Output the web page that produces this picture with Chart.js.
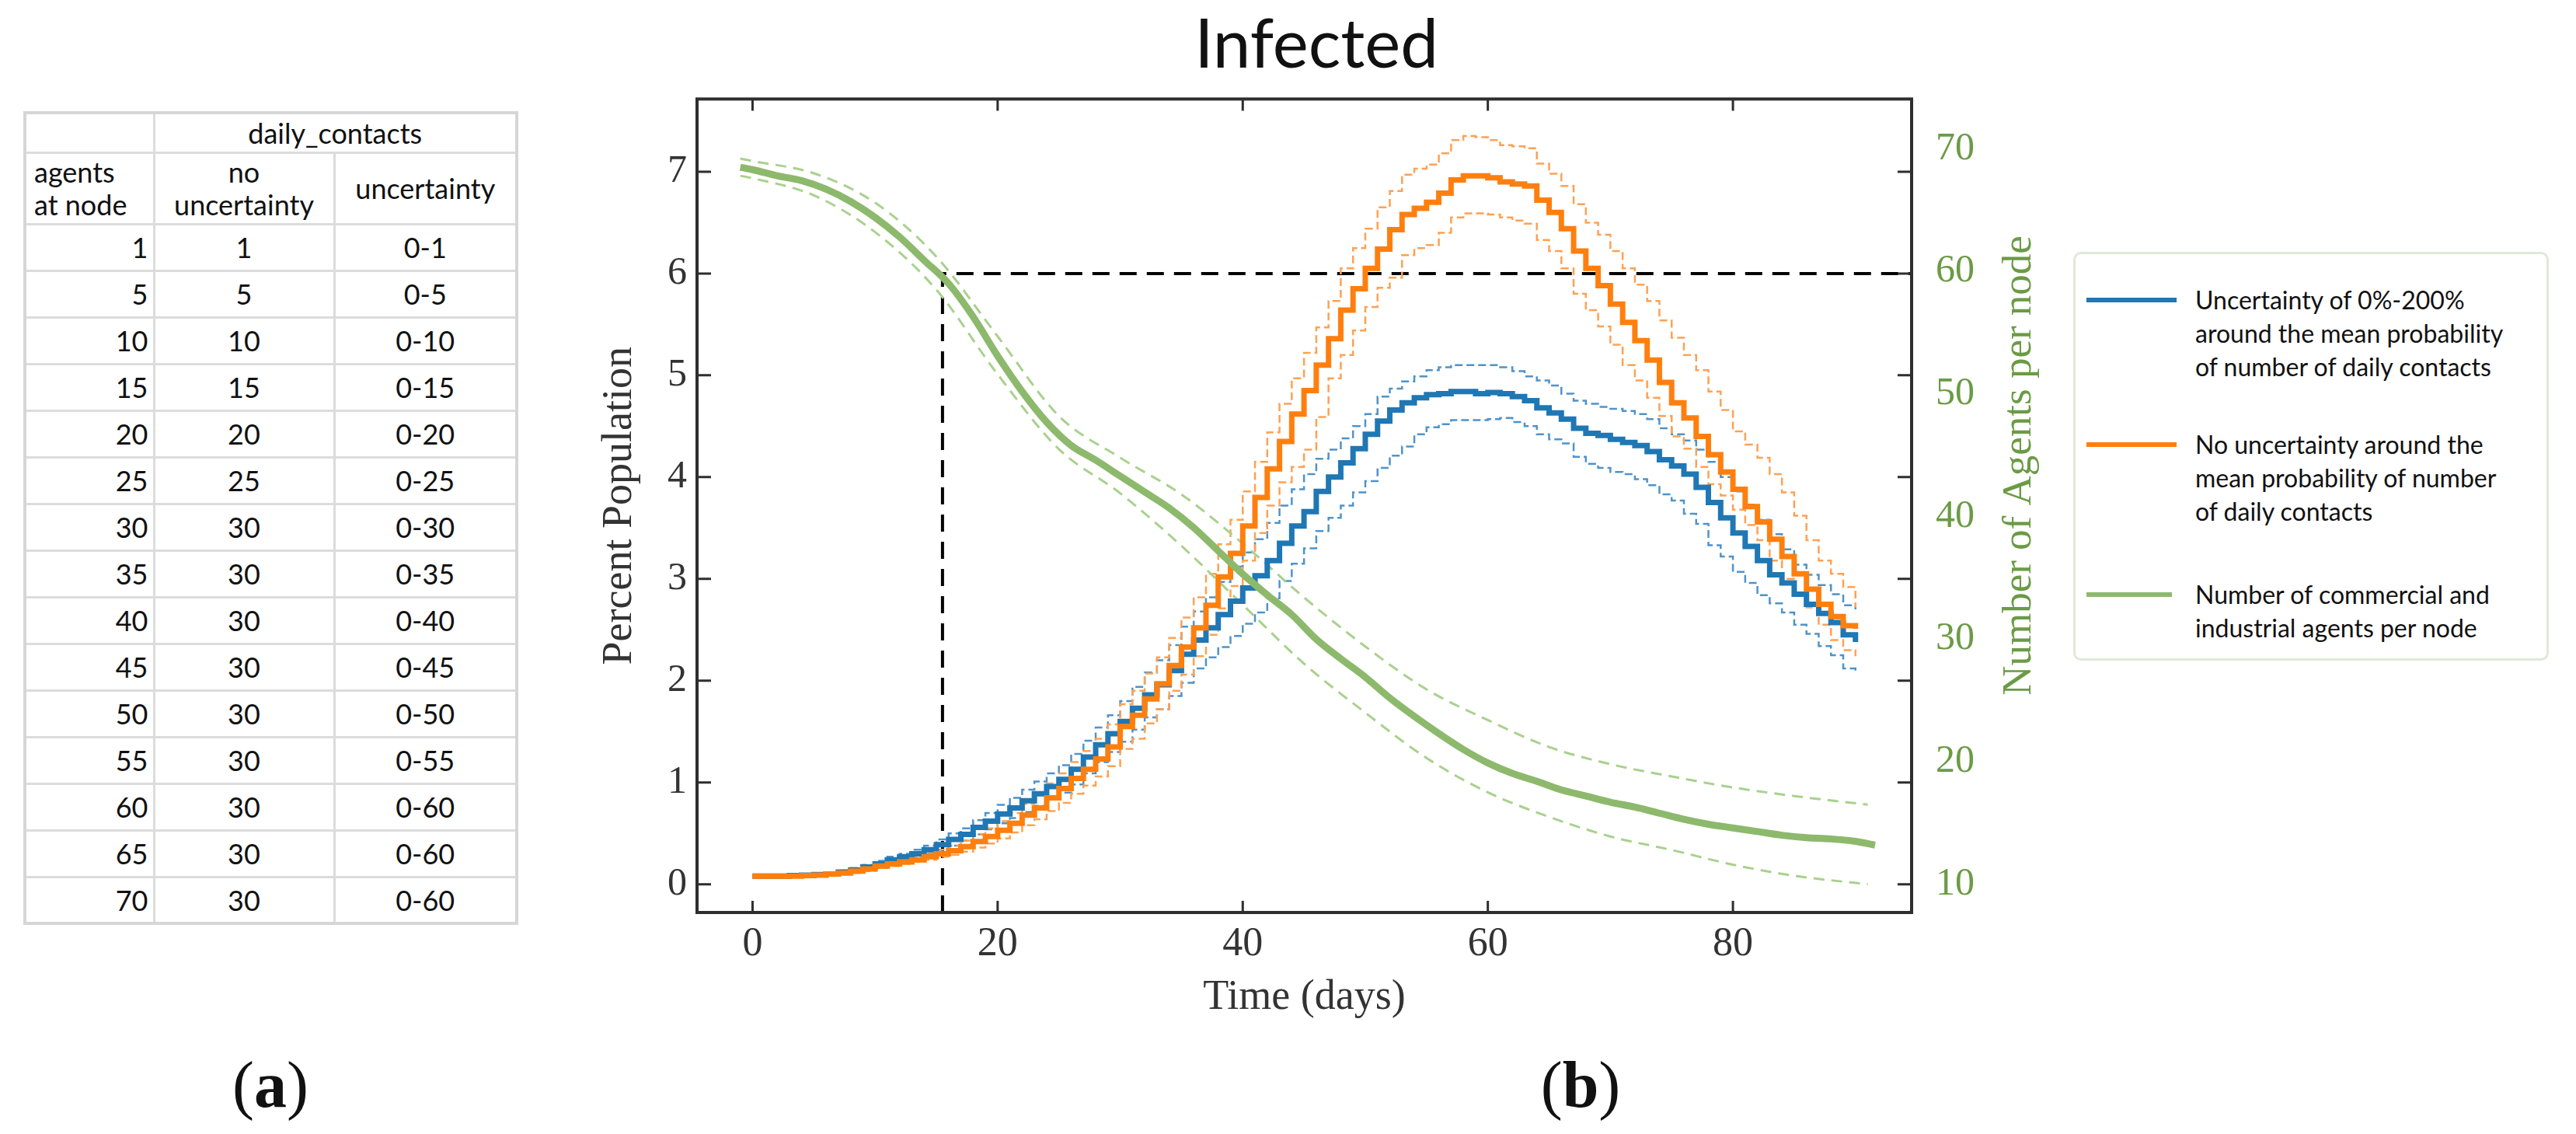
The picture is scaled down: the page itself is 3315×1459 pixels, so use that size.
<!DOCTYPE html>
<html>
<head>
<meta charset="utf-8">
<script src="https://cdn.jsdelivr.net/npm/chart.js@4.4.1/dist/chart.umd.min.js"></script>
<style>
  html, body { margin: 0; padding: 0; background: #fff; }
  body { width: 3315px; height: 1459px; position: relative; overflow: hidden; font-family: Lato, sans-serif; }
  #tbl { position: absolute; left: 30px; top: 143px; border-collapse: collapse; table-layout: fixed; width: 633px;
         font: 36px Lato, sans-serif; color: #111; border: 4px solid #d6d6d6; }
  #tbl td, #tbl th { border: 3px solid #dcdcdc; padding: 0 6px; font-weight: normal; line-height: 42px; text-align: center; }
  #tbl td.n, #tbl th.n { text-align: right; padding-right: 6px; }
  #tbl th.l { text-align: left; padding-left: 10px; }
  #tbl tbody tr { height: 60px; }
  #chartBox { position: absolute; left: 700px; top: 0; width: 1988px; height: 1459px; }
  #legend { position: absolute; left: 2668px; top: 324px; width: 612px; height: 526px; box-sizing: border-box;
            border: 3px solid #e0e9d9; border-radius: 10px; background: #fff; }
  .item { position: absolute; left: 0; }
  .swatch { position: absolute; left: 14px; width: 116px; height: 6px; top: 19px; }
  .txt { position: absolute; left: 154px; width: 450px; font: 32px Lato, sans-serif; line-height: 43px; color: #111; white-space: nowrap; }
  .panel { position: absolute; width: 200px; text-align: center; font: 84px "Liberation Serif", serif; line-height: 84px; color: #111; }
</style>
</head>
<body>
<table id="tbl">
  <colgroup><col style="width:166px"><col style="width:232px"><col style="width:235px"></colgroup>
  <thead>
    <tr style="height:51px"><th></th><th colspan="2">daily_contacts</th></tr>
    <tr style="height:92px"><th class="l">agents<br>at node</th><th>no<br>uncertainty</th><th>uncertainty</th></tr>
  </thead>
  <tbody id="tb"></tbody>
</table>
<div id="chartBox"><canvas id="myChart" width="1988" height="1459"></canvas></div>
<div id="legend"></div>
<div class="panel" style="left:248px; top:1354px;">(<b>a</b>)</div>
<div class="panel" style="left:1934px; top:1354px;">(<b>b</b>)</div>
<script>
// table (a)
const agentsAtNode = [1, 5, 10, 15, 20, 25, 30, 35, 40, 45, 50, 55, 60, 65, 70];
const noUncertainty = [1, 5, 10, 15, 20, 25, 30, 30, 30, 30, 30, 30, 30, 30, 30];
const uncertaintyRange = ['0-1', '0-5', '0-10', '0-15', '0-20', '0-25', '0-30', '0-35', '0-40', '0-45', '0-50', '0-55', '0-60', '0-60', '0-60'];

// chart (b)
const days = [0, 1, 2, 3, 4, 5, 6, 7, 8, 9, 10, 11, 12, 13, 14, 15, 16, 17, 18, 19,
  20, 21, 22, 23, 24, 25, 26, 27, 28, 29, 30, 31, 32, 33, 34, 35, 36, 37, 38, 39,
  40, 41, 42, 43, 44, 45, 46, 47, 48, 49, 50, 51, 52, 53, 54, 55, 56, 57, 58, 59,
  60, 61, 62, 63, 64, 65, 66, 67, 68, 69, 70, 71, 72, 73, 74, 75, 76, 77, 78, 79,
  80, 81, 82, 83, 84, 85, 86, 87, 88, 89, 90];

const blueMean = [0.08, 0.08, 0.08, 0.085, 0.09, 0.095, 0.10, 0.12, 0.14, 0.17,
  0.20, 0.24, 0.27, 0.30, 0.34, 0.39, 0.44, 0.49, 0.56, 0.62,
  0.69, 0.75, 0.82, 0.89, 0.96, 1.03, 1.13, 1.25, 1.37, 1.48,
  1.60, 1.73, 1.86, 1.96, 2.10, 2.26, 2.40, 2.52, 2.65, 2.78,
  2.91, 3.03, 3.18, 3.35, 3.52, 3.66, 3.86, 4.00, 4.14, 4.28,
  4.42, 4.55, 4.66, 4.73, 4.78, 4.81, 4.82, 4.84, 4.84, 4.82,
  4.83, 4.82, 4.79, 4.75, 4.68, 4.63, 4.57, 4.48, 4.43, 4.41,
  4.37, 4.34, 4.31, 4.25, 4.17, 4.11, 4.03, 3.90, 3.75, 3.60,
  3.45, 3.32, 3.18, 3.04, 2.96, 2.85, 2.75, 2.66, 2.57, 2.45,
  2.38];
const blueUpper = [0.09, 0.09, 0.09, 0.095, 0.10, 0.105, 0.115, 0.135, 0.16, 0.19,
  0.23, 0.27, 0.30, 0.34, 0.38, 0.44, 0.50, 0.55, 0.63, 0.70,
  0.78, 0.85, 0.93, 1.01, 1.09, 1.17, 1.28, 1.41, 1.54, 1.66,
  1.80, 1.94, 2.08, 2.20, 2.35, 2.53, 2.68, 2.82, 2.97, 3.12,
  3.26, 3.39, 3.55, 3.72, 3.88, 4.03, 4.18, 4.27, 4.38, 4.50,
  4.62, 4.79, 4.87, 4.94, 4.99, 5.05, 5.08, 5.10, 5.10, 5.10,
  5.10, 5.08, 5.04, 4.99, 4.95, 4.90, 4.82, 4.75, 4.72, 4.69,
  4.67, 4.65, 4.62, 4.57, 4.48, 4.42, 4.36, 4.27, 4.15, 4.00,
  3.86, 3.73, 3.58, 3.44, 3.29, 3.14, 3.04, 2.94, 2.85, 2.74,
  2.70];
const blueLower = [0.07, 0.07, 0.07, 0.075, 0.08, 0.085, 0.09, 0.10, 0.12, 0.15,
  0.17, 0.21, 0.24, 0.26, 0.30, 0.34, 0.38, 0.43, 0.49, 0.54,
  0.60, 0.65, 0.71, 0.77, 0.84, 0.90, 0.98, 1.09, 1.20, 1.30,
  1.40, 1.52, 1.64, 1.72, 1.85, 1.98, 2.12, 2.23, 2.33, 2.44,
  2.56, 2.67, 2.81, 2.98, 3.15, 3.30, 3.47, 3.60, 3.72, 3.85,
  3.96, 4.09, 4.21, 4.30, 4.42, 4.49, 4.52, 4.56, 4.56, 4.56,
  4.57, 4.58, 4.54, 4.50, 4.42, 4.37, 4.33, 4.20, 4.13, 4.09,
  4.05, 4.03, 3.98, 3.92, 3.83, 3.77, 3.64, 3.54, 3.33, 3.22,
  3.07, 2.96, 2.84, 2.76, 2.67, 2.55, 2.46, 2.34, 2.25, 2.12,
  2.09];

const orangeMean = [0.08, 0.08, 0.08, 0.08, 0.085, 0.09, 0.10, 0.11, 0.13, 0.15,
  0.18, 0.20, 0.22, 0.24, 0.27, 0.30, 0.33, 0.37, 0.42, 0.47,
  0.53, 0.60, 0.68, 0.75, 0.85, 0.94, 1.04, 1.13, 1.23, 1.35,
  1.55, 1.66, 1.82, 1.97, 2.15, 2.33, 2.52, 2.74, 3.02, 3.25,
  3.52, 3.80, 4.08, 4.35, 4.62, 4.85, 5.10, 5.36, 5.64, 5.85,
  6.05, 6.24, 6.43, 6.58, 6.64, 6.70, 6.79, 6.92, 6.96, 6.96,
  6.94, 6.90, 6.88, 6.86, 6.72, 6.60, 6.44, 6.22, 6.05, 5.88,
  5.70, 5.52, 5.34, 5.15, 4.93, 4.73, 4.58, 4.40, 4.22, 4.05,
  3.88, 3.71, 3.56, 3.39, 3.22, 3.05, 2.90, 2.75, 2.63, 2.54,
  2.51];
const orangeUpper = [0.09, 0.09, 0.09, 0.09, 0.095, 0.10, 0.11, 0.13, 0.15, 0.17,
  0.20, 0.22, 0.25, 0.27, 0.31, 0.34, 0.38, 0.43, 0.49, 0.55,
  0.62, 0.70, 0.79, 0.88, 0.99, 1.09, 1.20, 1.31, 1.43, 1.57,
  1.77, 1.90, 2.07, 2.23, 2.42, 2.62, 2.82, 3.05, 3.34, 3.58,
  3.86, 4.15, 4.44, 4.72, 4.97, 5.22, 5.47, 5.73, 6.05, 6.25,
  6.44, 6.65, 6.81, 6.97, 7.03, 7.07, 7.18, 7.31, 7.35, 7.34,
  7.31, 7.26, 7.25, 7.23, 7.08, 6.98, 6.86, 6.68, 6.50, 6.38,
  6.22, 6.05, 5.89, 5.73, 5.54, 5.37, 5.20, 5.05, 4.84, 4.66,
  4.45, 4.32, 4.19, 4.03, 3.85, 3.62, 3.38, 3.18, 3.05, 2.92,
  2.72];
const orangeLower = [0.07, 0.07, 0.07, 0.07, 0.075, 0.08, 0.09, 0.10, 0.11, 0.13,
  0.16, 0.18, 0.20, 0.22, 0.24, 0.27, 0.29, 0.32, 0.36, 0.40,
  0.45, 0.51, 0.58, 0.64, 0.72, 0.80, 0.89, 0.97, 1.06, 1.16,
  1.33, 1.43, 1.58, 1.72, 1.90, 2.06, 2.24, 2.45, 2.71, 2.93,
  3.18, 3.45, 3.72, 3.95, 4.10, 4.27, 4.59, 4.97, 5.20, 5.44,
  5.67, 5.86, 5.96, 6.18, 6.25, 6.28, 6.40, 6.55, 6.59, 6.59,
  6.58, 6.55, 6.52, 6.49, 6.33, 6.22, 6.05, 5.80, 5.64, 5.48,
  5.30, 5.10, 4.95, 4.78, 4.60, 4.40, 4.28, 4.10, 3.93, 3.82,
  3.68, 3.53, 3.38, 3.18, 3.00, 2.85, 2.72, 2.55, 2.40, 2.30,
  2.24];

// agents per node (right axis)
const greenDays = [-1, 0, 2, 4, 6, 8, 10, 12, 14, 16, 18, 20, 22, 24, 26, 28, 30, 32, 34, 36, 38, 40,
  42, 44, 46, 48, 50, 52, 54, 56, 58, 60, 62, 64, 66, 68, 70, 72, 74, 76, 78, 80, 82, 84, 86, 88, 90, 91.6];
const greenMean = [68.5, 68.3, 67.8, 67.4, 66.7, 65.7, 64.4, 62.8, 60.9, 59.0, 56.3, 53.1, 50.2, 47.7, 45.8,
  44.6, 43.3, 42.0, 40.7, 39.1, 37.2, 35.3, 33.6, 32.0, 30.0, 28.4, 26.9, 25.2, 23.7, 22.3, 21.0, 19.9,
  19.05, 18.4, 17.7, 17.2, 16.7, 16.3, 15.8, 15.3, 14.9, 14.6, 14.3, 14.0, 13.8, 13.7, 13.5, 13.2];
const greenBandDays = [-1, 0, 5, 10, 15, 20, 25, 30, 35, 40, 45, 50, 55, 60, 65, 70, 75, 80, 85, 91];
const greenUpper = [69.2, 69.0, 68.0, 65.6, 61.2, 54.7, 48.2, 44.8, 41.8, 37.8, 33.4, 29.4, 25.9, 23.4, 21.2, 19.8, 18.8, 17.9, 17.2, 16.5];
const greenLower = [67.8, 67.6, 66.2, 63.2, 58.5, 51.6, 45.5, 41.9, 37.6, 32.8, 28.0, 24.0, 20.3, 17.5, 15.5, 13.9, 12.8, 11.6, 10.7, 10.0];

// reference lines (day when agents per node drops to 60)
const markerDay = 15.5;
const markerLevel = 6;

// axis ranges and ticks
const xMin = -4.53, xMax = 94.58, xStep = 20;
const yMin = -0.277, yMax = 7.714, yStep = 1;
const y2Min = 7.70, y2Max = 74.06, y2Step = 10;

const legendItems = [
  { color: '#1f77b4', width: 116, lines: ['Uncertainty of 0%-200%', 'around the mean probability', 'of number of daily contacts'] },
  { color: '#ff7f0e', width: 116, lines: ['No uncertainty around the', 'mean probability of number', 'of daily contacts'] },
  { color: '#8db96c', width: 110, lines: ['Number of commercial and', 'industrial agents per node'] }
];
const legendTops = [37, 223, 416];

const GREEN_TEXT = '#6b9b45';
const SERIF = '"Liberation Serif", "Times New Roman", serif';

// build table
const tb = document.getElementById('tb');
agentsAtNode.forEach(function (a, i) {
  const tr = document.createElement('tr');
  tr.innerHTML = '<td class="n">' + a + '</td><td>' + noUncertainty[i] + '</td><td>' + uncertaintyRange[i] + '</td>';
  tb.appendChild(tr);
});

// build legend
const lg = document.getElementById('legend');
legendItems.forEach(function (it, i) {
  const d = document.createElement('div');
  d.className = 'item';
  d.style.top = legendTops[i] + 'px';
  d.innerHTML = '<span class="swatch" style="background:' + it.color + ';width:' + it.width + 'px"></span>' +
    '<div class="txt">' + it.lines.join('<br>') + '</div>';
  lg.appendChild(d);
});

function makeSet(label, xs, ys, color, width, dash, axis, stepped) {
  return {
    label: label,
    data: xs.map(function (x, i) { return { x: x, y: ys[i] }; }),
    borderColor: color,
    borderWidth: width,
    borderDash: dash,
    yAxisID: axis,
    stepped: stepped ? 'before' : false,
    cubicInterpolationMode: stepped ? 'default' : 'monotone',
    tension: stepped ? 0 : 0.4,
    pointRadius: 0,
    fill: false,
    borderCapStyle: 'butt'
  };
}

const frame = {
  id: 'frame',
  beforeDatasetsDraw(chart) {
    const { ctx, chartArea: a, scales } = chart;
    const x = scales.x.getPixelForValue(markerDay);
    const y = scales.y.getPixelForValue(markerLevel);
    ctx.save();
    ctx.strokeStyle = '#000';
    ctx.lineWidth = 4;
    ctx.setLineDash([22, 13]);
    ctx.beginPath();
    ctx.moveTo(x, a.bottom);
    ctx.lineTo(x, y);
    ctx.lineTo(a.right, y);
    ctx.stroke();
    ctx.restore();
  },
  afterDraw(chart) {
    const { ctx, chartArea: a, scales } = chart;
    ctx.save();
    ctx.strokeStyle = '#2e2e2e';
    ctx.lineWidth = 3;
    scales.x.ticks.forEach(function (t) {
      const px = scales.x.getPixelForValue(t.value);
      ctx.beginPath();
      ctx.moveTo(px, a.bottom); ctx.lineTo(px, a.bottom - 15);
      ctx.moveTo(px, a.top); ctx.lineTo(px, a.top + 15);
      ctx.stroke();
    });
    scales.y.ticks.forEach(function (t) {
      const py = scales.y.getPixelForValue(t.value);
      ctx.beginPath();
      ctx.moveTo(a.left, py); ctx.lineTo(a.left + 18, py);
      ctx.moveTo(a.right, py); ctx.lineTo(a.right - 18, py);
      ctx.stroke();
    });
    ctx.lineWidth = 4;
    ctx.strokeRect(a.left, a.top, a.right - a.left, a.bottom - a.top);
    // right axis title, reading bottom to top
    ctx.translate(1899, 599);
    ctx.rotate(-Math.PI / 2);
    ctx.fillStyle = GREEN_TEXT;
    ctx.font = '53px ' + SERIF;
    ctx.textAlign = 'center';
    ctx.textBaseline = 'middle';
    ctx.fillText('Number of Agents per node', 0, 0);
    ctx.restore();
  }
};

const config = {
  type: 'line',
  data: {
    datasets: [
      makeSet('Number of commercial and industrial agents per node', greenDays, greenMean, '#8db96c', 9, [], 'y2', false),
      makeSet('No uncertainty around the mean probability of number of daily contacts', days, orangeMean, '#ff7f0e', 7, [], 'y', true),
      makeSet('Uncertainty of 0%-200% around the mean probability of number of daily contacts', days, blueMean, '#1f77b4', 7, [], 'y', true),
      makeSet('agents upper', greenBandDays, greenUpper, '#a9d18e', 3, [14, 9], 'y2', false),
      makeSet('agents lower', greenBandDays, greenLower, '#a9d18e', 3, [14, 9], 'y2', false),
      makeSet('no uncertainty upper', days, orangeUpper, '#ffa153', 2.5, [10, 5], 'y', true),
      makeSet('no uncertainty lower', days, orangeLower, '#ffa153', 2.5, [10, 5], 'y', true),
      makeSet('uncertainty upper', days, blueUpper, '#4f93c9', 2.5, [10, 5], 'y', true),
      makeSet('uncertainty lower', days, blueLower, '#4f93c9', 2.5, [10, 5], 'y', true)
    ]
  },
  options: {
    responsive: false,
    animation: false,
    devicePixelRatio: 1,
    layout: { padding: 0 },
    plugins: {
      legend: { display: false },
      tooltip: { enabled: false },
      title: {
        display: true,
        text: 'Infected',
        color: '#111',
        font: { family: 'Lato', size: 87, weight: 'normal', lineHeight: 1.2 },
        padding: { top: 7, bottom: 16 }
      }
    },
    scales: {
      x: {
        type: 'linear',
        min: xMin, max: xMax,
        grid: { display: false, drawTicks: false },
        border: { display: false },
        ticks: { stepSize: xStep, includeBounds: false, padding: 10, maxRotation: 0, color: '#333', font: { family: SERIF, size: 52 } },
        title: { display: true, text: 'Time (days)', color: '#333', font: { family: SERIF, size: 54 }, padding: { top: 0, bottom: 143 } },
        afterFit: function (s) { s.height = 285; }
      },
      y: {
        position: 'left',
        min: yMin, max: yMax,
        grid: { display: false, drawTicks: false },
        border: { display: false },
        ticks: { stepSize: yStep, includeBounds: false, padding: 13, color: '#333', font: { family: SERIF, size: 50 } },
        title: { display: true, text: 'Percent Population', color: '#333', font: { family: SERIF, size: 54 }, padding: { top: 65, bottom: 0 } },
        afterFit: function (s) { s.width = 197; }
      },
      y2: {
        position: 'right',
        min: y2Min, max: y2Max,
        grid: { display: false, drawTicks: false },
        border: { display: false },
        ticks: { stepSize: y2Step, includeBounds: false, padding: 31, color: GREEN_TEXT, font: { family: SERIF, size: 50 } },
        afterFit: function (s) { s.width = 228; }
      }
    }
  },
  plugins: [frame]
};

const myChart = new Chart(document.getElementById('myChart'), config);
</script>
</body>
</html>
